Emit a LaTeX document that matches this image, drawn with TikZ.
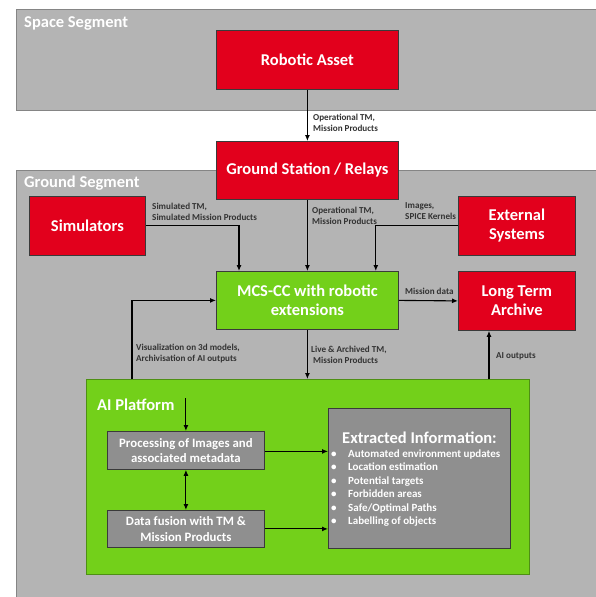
\documentclass[tikz,border=0pt]{standalone}
\usepackage{fontspec}
\setmainfont{Carlito}
\usetikzlibrary{arrows.meta,calc}
\definecolor{segbg}{HTML}{B4B4B4}
\definecolor{segline}{HTML}{858585}
\definecolor{redfill}{HTML}{E2001C}
\definecolor{greenfill}{HTML}{73D01A}
\definecolor{greenline}{HTML}{4E8F14}
\definecolor{innergray}{HTML}{8F8F8F}
\definecolor{boxline}{HTML}{3A3A3A}
\tikzset{
  segbox/.style={draw=segline, line width=0.8pt, fill=segbg, anchor=north west, inner sep=0pt},
  seglabel/.style={text=white, font=\fontsize{16.5}{19}\selectfont\bfseries, anchor=west, inner sep=0pt},
  redbox/.style={draw=boxline, line width=0.8pt, fill=redfill, anchor=north west, text=white,
     font=\fontsize{16.5}{19}\selectfont\bfseries, align=center, inner sep=0pt},
  greenbox/.style={redbox, fill=greenfill},
  graybox/.style={draw=boxline, line width=0.8pt, fill=innergray, anchor=north west, text=white,
     font=\fontsize{12.8}{15.5}\selectfont\bfseries, align=center, inner sep=0pt},
  platform/.style={draw=greenline, line width=0.8pt, fill=greenfill, anchor=north west, inner sep=0pt},
  lbl/.style={font=\fontsize{9.1}{11.3}\selectfont\bfseries, align=left, anchor=north west, inner sep=0pt, text=black!80},
  arr/.style={-{Latex[length=6pt,width=5pt]}, line width=1.1pt, black},
  darr/.style={{Latex[length=6pt,width=5pt]}-{Latex[length=6pt,width=5pt]}, line width=1.1pt, black},
}
\begin{document}
\begin{tikzpicture}[x=1pt,y=-1pt]
\useasboundingbox (0,0) rectangle (595,597);
\fill[white] (0,0) rectangle (595,597);

% segments
\node[segbox, minimum width=590pt, minimum height=101pt] (space) at (16,9) {};
\node[seglabel] (spacelbl) at (24,23) {Space Segment};
\node[segbox, minimum width=590pt, minimum height=440pt] (ground) at (16,170) {};
\node[seglabel] (groundlbl) at (24,183) {Ground Segment};

% main boxes
\node[redbox, minimum width=182pt, minimum height=59pt] (ra) at (216,30) {Robotic Asset};
\node[redbox, minimum width=182pt, minimum height=58pt] (gs) at (216,141) {Ground Station / Relays};
\node[redbox, minimum width=116pt, minimum height=59pt] (sim) at (29,196) {Simulators};
\node[redbox, minimum width=117pt, minimum height=59pt] (ext) at (458,196) {External\\Systems};
\node[greenbox, minimum width=182pt, minimum height=58pt] (mcs) at (216,271) {MCS-CC with robotic\\extensions};
\node[redbox, minimum width=117pt, minimum height=59pt] (lta) at (458,271) {Long Term\\Archive};

% AI platform
\node[platform, minimum width=443pt, minimum height=195pt] (aip) at (86,379) {};
\node[seglabel] (aiplbl) at (97,405) {AI Platform};
\node[graybox, minimum width=157pt, minimum height=38pt] (proc) at (107,431) {Processing of Images and\\associated metadata};
\node[graybox, minimum width=157pt, minimum height=37pt] (fus) at (107,510) {Data fusion with TM \&\\Mission Products};
\node[graybox, minimum width=182pt, minimum height=140pt] (exi) at (328,408) {};
\node[text=white, font=\fontsize{16.5}{19}\selectfont\bfseries, inner sep=0pt] (exititle) at (419.5,438) {Extracted Information:};
\node[text=white, font=\fontsize{11}{13.4}\selectfont\bfseries, align=left, anchor=north west, inner sep=0pt] (exilist) at (331,449.5)
 {\makebox[17pt][l]{\textbullet}Automated environment updates\\
  \makebox[17pt][l]{\textbullet}Location estimation\\
  \makebox[17pt][l]{\textbullet}Potential targets\\
  \makebox[17pt][l]{\textbullet}Forbidden areas\\
  \makebox[17pt][l]{\textbullet}Safe/Optimal Paths\\
  \makebox[17pt][l]{\textbullet}Labelling of objects};

% coordinates
\coordinate (simin) at ($(mcs.north west)+(23,0)$);
\coordinate (extin) at ($(mcs.north east)+(-23,0)$);
\coordinate (vizout) at ($(aip.north west)+(46,0)$);
\coordinate (aiout) at ($(lta.south west)+(31,0)$);
\coordinate (aiin) at ($(proc.north)+(0,-33)$);

% connectors
\draw[arr] (ra.south) -- (gs.north);
\draw[arr] (gs.south) -- (mcs.north);
\draw[arr] (sim.east) -| (simin);
\draw[arr] (ext.west) -| (extin);
\draw[arr] (mcs.east) -- (lta.west);
\draw[arr] (vizout) |- (mcs.west);
\draw[arr] (mcs.south) -- (mcs.south |- aip.north);
\draw[arr] (aiout |- aip.north) -- (aiout);
\draw[arr] (aiin) -- (proc.north);
\draw[darr] (proc.south) -- (fus.north);
\draw[arr] ($(proc.east)+(0,1)$) -- ($(proc.east -| exi.west)+(0,1)$);
\draw[arr] (fus.east) -- (fus.east -| exi.west);

% labels
\node[lbl] (l1) at (313,114) {Operational TM,\\Mission Products};
\node[lbl] (l2) at (152,202.5) {Simulated TM,\\Simulated Mission Products};
\node[lbl] (l3) at (312,206.5) {Operational TM,\\Mission Products};
\node[lbl] (l4) at (405,202.5) {Images,\\SPICE Kernels};
\node[lbl] (l5) at (405,287.5) {Mission data};
\node[lbl] (l6) at (136,343.5) {Visualization on 3d models,\\Archivisation of AI outputs};
\node[lbl] (l7) at (311,345.5) {Live \& Archived TM,\\\hspace{2pt}Mission Products};
\node[lbl] (l8) at (496,352.5) {AI outputs};
\end{tikzpicture}
\end{document}
